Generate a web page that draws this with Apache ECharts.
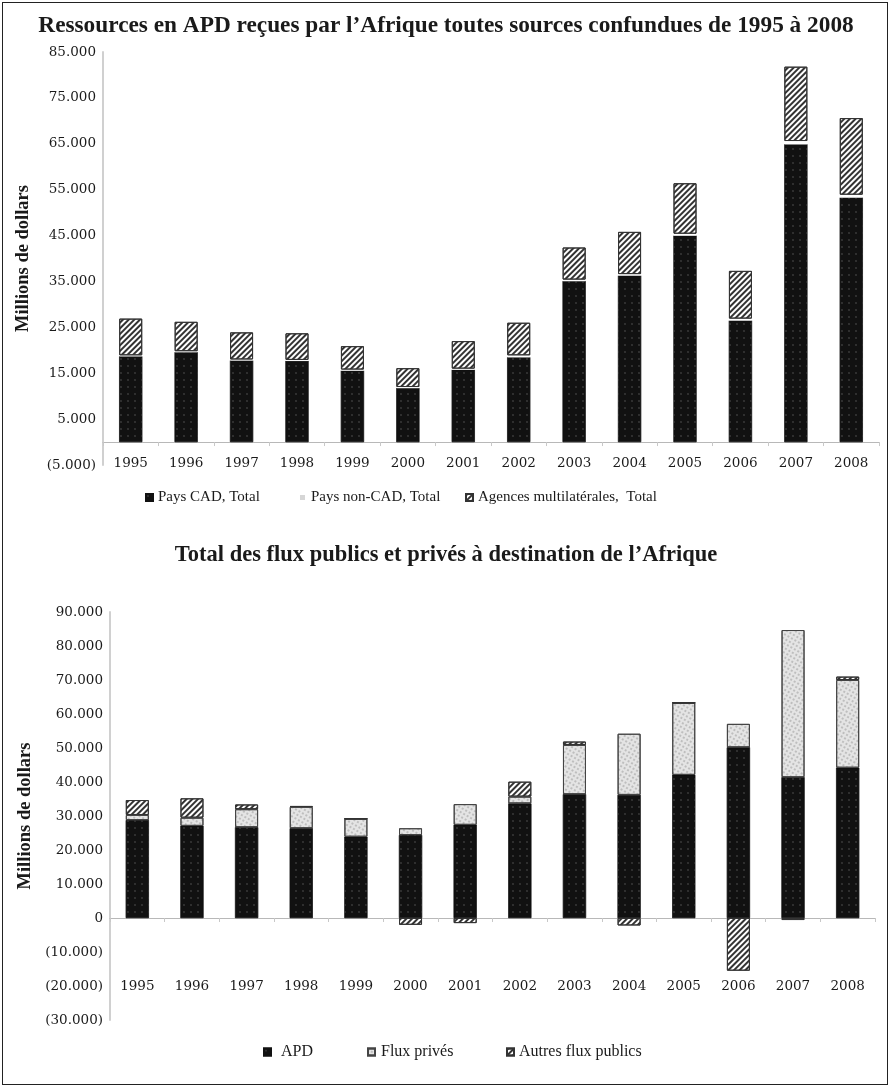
<!DOCTYPE html>
<html>
<head>
<meta charset="utf-8">
<script src="https://cdn.jsdelivr.net/npm/echarts@6/dist/echarts.min.js"></script>
<style>
  html, body { margin: 0; padding: 0; background: #fff; }
  #chart { position: absolute; left: 0; top: 0; width: 892px; height: 1088px; }
  #frame { position: absolute; left: 2px; top: 2px; width: 884px; height: 1081px;
           border: 1.5px solid #222; pointer-events: none; }
</style>
</head>
<body>
<div id="chart"></div>
<div id="frame"></div>
<script>
// Years shown on both charts
const years = ['1995', '1996', '1997', '1998', '1999', '2000', '2001', '2002', '2003', '2004', '2005', '2006', '2007', '2008'];

// Upper chart: ODA received by Africa, by source (millions of dollars)
const cadTotal    = [18700, 19600, 17800, 17700, 15600, 11800, 15800, 18500, 35100, 36300, 45000, 26500, 64900, 53300];
const nonCadTotal = [200, 200, 200, 200, 200, 200, 200, 400, 300, 300, 400, 400, 700, 600];
const multiTotal  = [8000, 6400, 5900, 5800, 5100, 4100, 6000, 7100, 7000, 9200, 11000, 10400, 16200, 16700];

// Lower chart: total public and private flows to Africa (millions of dollars)
const apd          = [28800, 27100, 26700, 26400, 23900, 24400, 27400, 33700, 36400, 36200, 42100, 50200, 41400, 44200];
const privateFlows = [1500, 2400, 5300, 6300, 5300, 2000, 6100, 2000, 14500, 18000, 21200, 6900, 43300, 25800];
const otherPublic  = [4400, 5700, 1400, 200, 0, -2000, -1500, 4400, 1000, -2200, 0, -15500, -600, 1000];

// Tick values of the two value axes
const topTicks    = [-5000, 5000, 15000, 25000, 35000, 45000, 55000, 65000, 75000, 85000];
const bottomTicks = [-30000, -20000, -10000, 0, 10000, 20000, 30000, 40000, 50000, 60000, 70000, 80000, 90000];

function fmt(n) {
  const s = String(Math.abs(Math.round(n))).replace(/\B(?=(\d{3})+(?!\d))/g, '.');
  return n < 0 ? '(' + s + ')' : s;
}

const SERIF = '"DejaVu Serif", serif';
const TIMES = '"Liberation Serif", serif';
const INK = '#1a1a1a';

// Fill patterns
const dotsOnBlack = { symbol: 'circle', symbolSize: 0.55, color: 'rgba(255,255,255,0.16)', dashArrayX: [4, 3], dashArrayY: [4, 3] };
const hatch = { symbol: 'rect', symbolSize: 1, color: '#333', dashArrayX: [1, 0], dashArrayY: [1.5, 1.5], rotation: -Math.PI / 4 };
const speckle = { symbol: 'circle', symbolSize: 0.8, color: 'rgba(0,0,0,0.38)', dashArrayX: [2, 1.5], dashArrayY: [2, 1.5], rotation: Math.PI / 6 };
const faintSpeckle = { symbol: 'circle', symbolSize: 0.6, color: 'rgba(0,0,0,0.12)', dashArrayX: [2, 2], dashArrayY: [2, 2] };

const styleBlack = { color: '#111', borderColor: '#111', borderWidth: 0.5, decal: dotsOnBlack };
const styleHatch = { color: '#fff', borderColor: '#333', borderWidth: 1, decal: hatch };
const stylePriv  = { color: '#e4e4e4', borderColor: '#444', borderWidth: 1, decal: speckle };
const styleNon   = { color: '#fff', borderColor: '#fff', borderWidth: 0.5, decal: faintSpeckle };

function valueAxis(gridIndex, min, max, ticks, name, nameGap) {
  return {
    type: 'value', gridIndex, min, max,
    name, nameLocation: 'middle', nameGap,
    nameTextStyle: { fontFamily: TIMES, fontWeight: 'bold', fontSize: 18.5, color: INK },
    axisLine: { show: true, lineStyle: { color: '#d0d0d0', width: 2 } },
    axisTick: { show: false },
    splitLine: { show: false },
    axisLabel: { customValues: ticks, formatter: fmt, fontFamily: SERIF, fontSize: 13.5, color: INK, margin: 7 }
  };
}

function catAxis(gridIndex, margin) {
  return {
    type: 'category', gridIndex, data: years,
    axisLine: { onZero: true, lineStyle: { color: '#b8b8b8', width: 1 } },
    axisTick: { show: true, length: 4, lineStyle: { color: '#c8c8c8' } },
    axisLabel: { fontFamily: SERIF, fontSize: 13.5, color: INK, margin }
  };
}

function legendItem(name, left, top, fontSize, iconSize, textPad, iconColor) {
  const item = iconColor ? { name, itemStyle: { color: iconColor, decal: 'none' } } : name;
  return {
    data: [item], left, top, padding: 0, itemWidth: iconSize, itemHeight: iconSize, itemGap: 0,
    icon: 'rect', textStyle: { fontFamily: TIMES, fontSize, color: INK, padding: [0, 0, 0, textPad] }
  };
}

const option = {
  animation: false,
  backgroundColor: '#fff',
  title: [
    { text: 'Ressources en APD reçues par l’Afrique toutes sources confundues de 1995 à 2008',
      left: 'center', top: 9,
      textStyle: { fontFamily: TIMES, fontWeight: 'bold', fontSize: 23.3, color: INK } },
    { text: 'Total des flux publics et privés à destination de l’Afrique',
      left: 'center', top: 539,
      textStyle: { fontFamily: TIMES, fontWeight: 'bold', fontSize: 22.5, color: INK } }
  ],
  legend: [
    legendItem('Pays CAD, Total', 145, 490, 15, 7, 0),
    legendItem('Pays non-CAD, Total', 298, 490, 15, 7, 0, '#d6d6d6'),
    legendItem('Agences multilatérales,  Total', 465, 490, 15, 7, 0),
    legendItem('APD', 263, 1044, 16, 7, 5),
    legendItem('Flux privés', 367, 1044, 16, 7, 1),
    legendItem('Autres flux publics', 506, 1044, 16, 7, 0)
  ],
  grid: [
    { left: 103, right: 13, top: 52, height: 413 },
    { left: 110, right: 17, top: 612, height: 408 }
  ],
  xAxis: [catAxis(0, -9), catAxis(1, -41)],
  yAxis: [
    valueAxis(0, -5000, 85000, topTicks, 'Millions de dollars', 70),
    valueAxis(1, -30000, 90000, bottomTicks, 'Millions de dollars', 74)
  ],
  series: [
    { name: 'Pays CAD, Total', type: 'bar', stack: 'top', xAxisIndex: 0, yAxisIndex: 0, barWidth: 23, data: cadTotal, itemStyle: styleBlack },
    { name: 'Pays non-CAD, Total', type: 'bar', stack: 'top', xAxisIndex: 0, yAxisIndex: 0, barWidth: 23, data: nonCadTotal, itemStyle: styleNon },
    { name: 'Agences multilatérales,  Total', type: 'bar', stack: 'top', xAxisIndex: 0, yAxisIndex: 0, barWidth: 23, data: multiTotal, itemStyle: styleHatch },
    { name: 'APD', type: 'bar', stack: 'bottom', xAxisIndex: 1, yAxisIndex: 1, barWidth: 23, data: apd, itemStyle: styleBlack },
    { name: 'Flux privés', type: 'bar', stack: 'bottom', xAxisIndex: 1, yAxisIndex: 1, barWidth: 23, data: privateFlows, itemStyle: stylePriv },
    { name: 'Autres flux publics', type: 'bar', stack: 'bottom', xAxisIndex: 1, yAxisIndex: 1, barWidth: 23, data: otherPublic, itemStyle: styleHatch }
  ]
};

const chart = echarts.init(document.getElementById('chart'), null, { renderer: 'canvas' });
chart.setOption(option);
</script>
</body>
</html>
